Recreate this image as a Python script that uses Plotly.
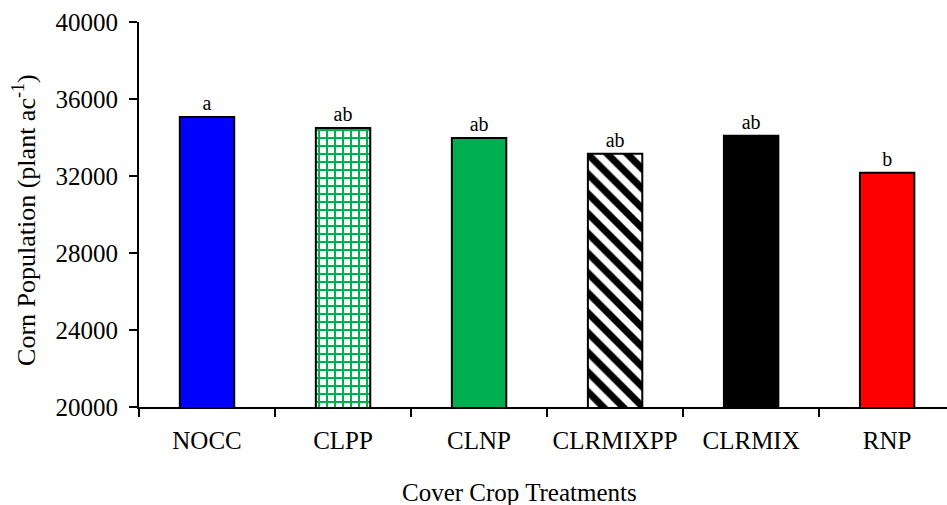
import plotly.graph_objects as go

# Corn stand counts by cover crop treatment
treatments = ["NOCC", "CLPP", "CLNP", "CLRMIXPP", "CLRMIX", "RNP"]
population = [35070, 34490, 33970, 33150, 34090, 32170]
letters = ["a", "ab", "ab", "ab", "ab", "b"]
y_ticks = [20000, 24000, 28000, 32000, 36000, 40000]

# per-treatment fill styles
fill_colors = ["#0000FF", "white", "#00B050", "white", "#000000", "#FF0000"]
pattern_shapes = ["", "+", "", "\\", "", ""]
pattern_fg = ["#00B050", "#00B050", "#00B050", "#000000", "#000000", "#000000"]
pattern_size = [8, 8, 8, 14, 8, 8]
pattern_solid = [0.3, 0.45, 0.3, 0.5, 0.3, 0.3]

serif = "Liberation Serif, Times New Roman, serif"

fig = go.Figure()
for i, name in enumerate(treatments):
    fig.add_trace(go.Bar(
        x=[name],
        y=[population[i]],
        text=[letters[i]],
        textposition="outside",
        textfont=dict(family=serif, size=20, color="black"),
        cliponaxis=False,
        width=0.4,
        marker=dict(
            color=fill_colors[i],
            line=dict(color="black", width=2),
            pattern=dict(
                shape=pattern_shapes[i],
                fgcolor=pattern_fg[i],
                fgopacity=1,
                size=pattern_size[i],
                solidity=pattern_solid[i],
                fillmode="overlay",
            ),
        ),
        showlegend=False,
    ))

fig.update_layout(
    width=947,
    height=505,
    margin=dict(l=139, r=0, t=22, b=98),
    plot_bgcolor="white",
    paper_bgcolor="white",
    barmode="overlay",
    font=dict(family=serif, size=26, color="black"),
    xaxis=dict(
        type="category",
        categoryorder="array",
        categoryarray=treatments,
        range=[-0.5, 5.44],
        automargin=False,
        tickangle=0,
        showline=True,
        linecolor="black",
        linewidth=2,
        ticks="outside",
        tickson="boundaries",
        ticklen=8,
        tickwidth=2,
        tickcolor="black",
        ticklabelstandoff=10,
        tickfont=dict(family=serif, size=25),
        showgrid=False,
        zeroline=False,
    ),
    yaxis=dict(
        range=[20000, 40000],
        tickvals=y_ticks,
        ticktext=[str(v) for v in y_ticks],
        automargin=False,
        showline=True,
        linecolor="black",
        linewidth=2,
        ticks="outside",
        ticklen=8,
        tickwidth=2,
        tickcolor="black",
        ticklabelstandoff=6,
        tickfont=dict(family=serif, size=25),
        showgrid=False,
        zeroline=False,
    ),
    annotations=[
        dict(
            text="Cover Crop Treatments",
            xref="paper", yref="paper",
            x=0.4715, y=-0.223,
            xanchor="center", yanchor="middle",
            showarrow=False,
            font=dict(family=serif, size=25),
        ),
        dict(
            text="Corn Population (plant ac<sup>-1</sup>)",
            xref="paper", yref="paper",
            x=-0.141, y=0.486,
            xanchor="center", yanchor="middle",
            textangle=-90,
            showarrow=False,
            font=dict(family=serif, size=26),
        ),
    ],
)

fig.write_html("out.html")
